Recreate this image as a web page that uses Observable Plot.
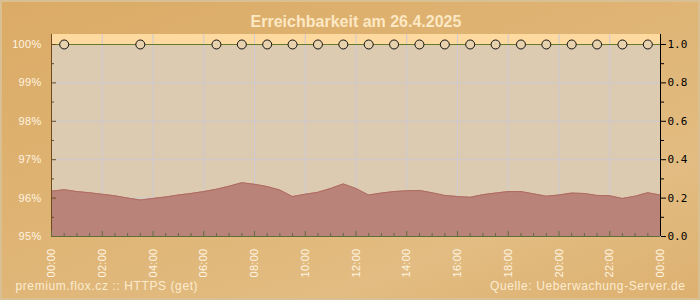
<!DOCTYPE html>
<html><head><meta charset="utf-8">
<script src="https://cdn.jsdelivr.net/npm/d3@7"></script>
<script src="https://cdn.jsdelivr.net/npm/@observablehq/plot@0.6"></script>
<style>
html,body{margin:0;padding:0;background:#ddb272;}
#chart svg{display:block;}
</style></head><body><div id="chart"></div>
<script>
const title = "Erreichbarkeit am 26.4.2025";
const footLeft = "premium.flox.cz :: HTTPS (get)";
const footRight = "Quelle: Ueberwachung-Server.de";

// response series (percent) every 30 minutes
const hours = [0,0.5,1,1.5,2,2.5,3,3.5,4,4.5,5,5.5,6,6.5,7,7.5,8,8.5,9,9.5,10,10.5,11,11.5,12,
  12.5,13,13.5,14,14.5,15,15.5,16,16.5,17,17.5,18,18.5,19,19.5,20,20.5,21,21.5,22,22.5,23,23.5,24];
const values = [96.18,96.22,96.17,96.14,96.10,96.06,96.00,95.95,95.99,96.03,96.08,96.12,96.17,96.23,96.31,96.40,96.36,96.30,96.21,96.04,96.10,96.15,96.25,96.37,96.25,
  96.08,96.13,96.17,96.19,96.20,96.14,96.07,96.04,96.02,96.09,96.13,96.17,96.17,96.11,96.05,96.08,96.13,96.12,96.07,96.06,95.99,96.05,96.14,96.08];

// availability checks
const checkHours = [0.5,3.5,6.5,7.5,8.5,9.5,10.5,11.5,12.5,13.5,14.5,15.5,16.5,17.5,18.5,19.5,20.5,21.5,22.5,23.5];
const checkAvail = [1,1,1,1,1,1,1,1,1,1,1,1,1,1,1,1,1,1,1,1];

const xTicks = [0,2,4,6,8,10,12,14,16,18,20,22,24];
const xTickLabels = ["00:00","02:00","04:00","06:00","08:00","10:00","12:00","14:00","16:00","18:00","20:00","22:00","00:00"];
const xMinor = [0.5,1,1.5,2.5,3,3.5,4.5,5,5.5,6.5,7,7.5,8.5,9,9.5,10.5,11,11.5,12.5,13,13.5,14.5,15,15.5,16.5,17,17.5,18.5,19,19.5,20.5,21,21.5,22.5,23,23.5];
const yTicks = [95,96,97,98,99,100];
const yTickLabels = ["95%","96%","97%","98%","99%","100%"];
const yMinor = [95.5,96.5,97.5,98.5,99.5];
const rightTickLabels = ["0.0","0.2","0.4","0.6","0.8","1.0"];
const yMin = 95, yMax = 100, yTop = 100.26;

const data = hours.map((h, i) => ({h, v: values[i]}));
const checks = checkHours.map((h, i) => ({h, a: checkAvail[i], y: yMin + checkAvail[i] * (yMax - yMin)}));
const strip = [{x1: 0, x2: 24, y1: yMax, y2: yTop}];

const txt = "#fff4e0";
const chart = Plot.plot({
  width: 700, height: 300,
  marginLeft: 51, marginRight: 40, marginTop: 34, marginBottom: 64,
  x: {domain: [0, 24], axis: null},
  y: {domain: [yMin, yTop], axis: null},
  style: {
    fontFamily: "Liberation Sans, Arial, sans-serif",
    background: "linear-gradient(160deg, #dbab66 0%, #dfb474 45%, #e2bc82 75%, #ddb06f 100%)",
    boxShadow: "inset 0 0 0 2px #d8c093"
  },
  marks: [
    Plot.frame({fill: "#dccbb1", stroke: null}),
    Plot.rect(strip, {x1: "x1", x2: "x2", y1: "y1", y2: "y2", fill: "#fed9a0"}),
    Plot.gridX(xTicks.slice(1, -1), {stroke: "#cdc9d2", strokeOpacity: 1}),
    Plot.gridY(yTicks.slice(1, -1), {stroke: "#cdc9d2", strokeOpacity: 1}),
    Plot.areaY(data, {x: "h", y1: yMin, y2: "v", fill: "#b9837a"}),
    Plot.lineY(data, {x: "h", y: "v", stroke: "#b06b60", strokeWidth: 1}),
    Plot.ruleY(checks.slice(0, 1), {y: "y", stroke: "#6a7a2c", strokeWidth: 1.2}),
    Plot.dot(checks, {x: "h", y: "y", r: 4.5, stroke: "#111", strokeWidth: 1, fill: "#e8d2ad"}),
    // left axis
    Plot.ruleX([0], {stroke: "#6b4b1f"}),
    Plot.axisY({anchor: "left", ticks: yTicks, tickSize: -5, text: null, stroke: "#6b4b1f"}),
    Plot.axisY({anchor: "left", ticks: yMinor, tickSize: -3, text: null, stroke: "#6b4b1f"}),
    Plot.axisY({anchor: "left", ticks: yTicks, tickSize: 0, tickPadding: 10, tickFormat: (d, i) => yTickLabels[i], fill: txt, fontSize: 11, label: null}),
    // bottom axis
    Plot.ruleY([yMin], {stroke: "#5f6d3c"}),
    Plot.axisX({ticks: xTicks, tickSize: -5, text: null, stroke: "#5f6d3c"}),
    Plot.axisX({ticks: xMinor, tickSize: -3, text: null, stroke: "#5f6d3c"}),
    Plot.axisX({ticks: xTicks, tickSize: 0, tickPadding: 12, tickRotate: -90, tickFormat: (d, i) => xTickLabels[i], fill: txt, fontSize: 11, label: null}),
    // right axis
    Plot.ruleX([24], {stroke: "#000"}),
    Plot.axisY({anchor: "right", ticks: yTicks, tickSize: 5, text: null, stroke: "#000"}),
    Plot.axisY({anchor: "right", ticks: [96.5, 97.5, 98.5, 99.5, 95.5], tickSize: 3, text: null, stroke: "#000"}),
    Plot.axisY({anchor: "right", ticks: yTicks, tickSize: 0, tickPadding: 7, tickFormat: (d, i) => rightTickLabels[i], fill: "#000", fontSize: 11, fontFamily: "DejaVu Sans Mono", label: null}),
    // texts
    Plot.text([title], {frameAnchor: "top", lineAnchor: "middle", dy: -13, fontSize: 16, fontWeight: "bold", fill: "#fde8c4"}),
    Plot.text([footLeft], {frameAnchor: "bottom-left", lineAnchor: "middle", dx: -36, dy: 50, textAnchor: "start", fontSize: 12, fill: "#fcecd0"}),
    Plot.text([footRight], {frameAnchor: "bottom-right", lineAnchor: "middle", dx: 25, dy: 50, textAnchor: "end", fontSize: 12, fill: "#fcecd0"})
  ]
});
// rrdtool-like letter spacing
d3.select(chart).selectAll("text").each(function() {
  const t = this.textContent;
  if (t === footLeft || t === footRight) this.style.letterSpacing = "0.6px";
  else if (xTickLabels.includes(t) || yTickLabels.includes(t)) this.style.letterSpacing = "0.3px";
});
document.getElementById("chart").appendChild(chart);
</script></body></html>
